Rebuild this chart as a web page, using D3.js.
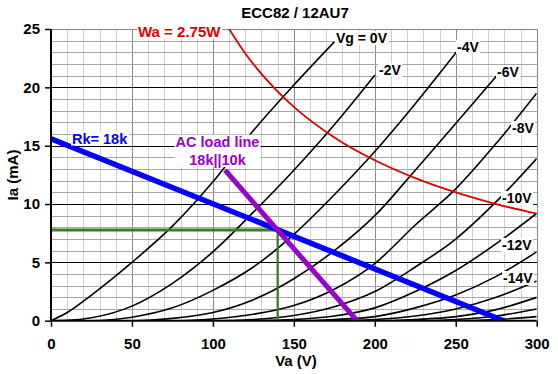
<!DOCTYPE html>
<html><head><meta charset="utf-8">
<script src="https://cdn.jsdelivr.net/npm/d3@7"></script>
<style>
body{margin:0;background:#fff;}
svg{display:block;font-family:Arial,"Liberation Sans",sans-serif;font-weight:bold;}
</style>
</head><body>
<svg id="chart" width="558" height="374"></svg>
<script>
// ---------- DATA ----------
const title = "ECC82 / 12AU7";
const xTicks = [0, 50, 100, 150, 200, 250, 300];
const yTicks = [0, 5, 10, 15, 20, 25];
const xTitle = "Va (V)";
const yTitle = "Ia (mA)";

// anode curves [Va (V), Ia (mA)]
const vg0  = [[0,0],[10,0.7],[25,2.2],[50,5],[75,8.1],[100,11.9],[125,16.3],[150,20.2],[175,23.9]];
const vg2  = [[0,0],[10,0.03],[25,0.25],[50,1.25],[75,3.2],[100,5.9],[125,9.3],[150,12.9],[175,16.8],[200,21.05]];
const vg4  = [[0,0],[25,0],[50,0.3],[75,1.1],[100,2.6],[125,4.6],[150,7.4],[175,10.8],[200,14.5],[225,18.6],[250.6,23.05]];
const vg6  = [[0,0],[50,0],[75,0.2],[100,0.7],[125,1.8],[150,3.6],[175,6.0],[200,9.0],[225,12.9],[250,16.9],[275.3,21]];
const vg8  = [[0,0],[75,0],[100,0.15],[125,0.55],[150,1.3],[175,2.7],[200,4.9],[225,8.2],[250,11.3],[275,15.2],[300,19.5]];
const vg10 = [[0,0],[100,0],[125,0.1],[150,0.45],[175,1.2],[200,2.5],[225,4.6],[250,7.0],[275,10.2],[300,13.9]];
const vg12 = [[0,0],[125,0],[150,0.1],[175,0.4],[200,1.1],[225,2.5],[250,4.3],[275,6.6],[300,9.2]];
const vg14 = [[0,0],[150,0],[175,0.1],[200,0.35],[225,1.1],[250,2.2],[275,3.8],[300,5.9]];
const vg16 = [[0,0],[175,0],[200,0.1],[225,0.4],[250,1.0],[275,2.0],[300,3.4]];
const vg18 = [[0,0],[200,0],[225,0.1],[250,0.35],[275,0.95],[300,2.0]];
const vg20 = [[0,0],[225,0],[250,0.1],[275,0.4],[300,1.0]];
const vg22 = [[0,0],[250,0],[275,0.1],[300,0.35]];

const vgLabels = ["Vg = 0V","-2V","-4V","-6V","-8V","-10V","-12V","-14V"];

// anode dissipation limit
const waLabel = "Wa = 2.75W";
const waCurve = [[110,25],[120,22.9],[137.5,20],[150,18.33],[175,15.71],[200,13.75],[225,12.22],[250,11],[275,10],[300,9.17]];

// load lines
const dcLabel = "Rk= 18k";
const dcLoad = [[0,15.6],[279.5,0]];
const acLabel = ["AC load line","18k||10k"];
const acLoad = [[107.5,12.9],[189,0]];
const opPoint = [140, 7.78];

// ---------- LAYOUT ----------
const svg = d3.select("#chart");
const x = d3.scaleLinear().domain([0,300]).range([51, 536.7]);
const y = d3.scaleLinear().domain([0,25]).range([320.7, 29]);

const fs = 15;
// grid
const g = svg.append("g").attr("shape-rendering","crispEdges");
d3.range(10,301,10).forEach(v=>{
  const major = v % 50 === 0;
  g.append("line").attr("x1",Math.round(x(v))+0.5).attr("x2",Math.round(x(v))+0.5)
    .attr("y1",y(25)).attr("y2",y(0))
    .attr("stroke", major ? "#8a8a8a" : "#cfcfcf").attr("stroke-width", major?1.6:1);
});
d3.range(1,26,1).forEach(v=>{
  const major = v % 5 === 0 && v < 25;
  g.append("line").attr("x1",x(0)).attr("x2",x(300))
    .attr("y1",Math.round(y(v))+0.5).attr("y2",Math.round(y(v))+0.5)
    .attr("stroke", major ? "#000" : (v===25 ? "#888" : "#a6a6a6")).attr("stroke-width", 1);
});

// clip
svg.append("clipPath").attr("id","clip").append("rect")
  .attr("x",x(0)).attr("y",y(25)).attr("width",x(300)-x(0)).attr("height",y(0)-y(25));

const plot = svg.append("g").attr("clip-path","url(#clip)");
const line = d3.line().x(d=>x(d[0])).y(d=>y(d[1])).curve(d3.curveMonotoneX);

[vg0,vg2,vg4,vg6,vg8,vg10,vg12,vg14,vg16,vg18,vg20,vg22].forEach(c=>{
  plot.append("path").attr("d",line(c)).attr("fill","none").attr("stroke","#000").attr("stroke-width",1.6);
});

plot.append("path").attr("d",line(waCurve)).attr("fill","none").attr("stroke","#e00000").attr("stroke-width",1.8);

// operating point lines
plot.append("line").attr("x1",x(0)).attr("x2",x(opPoint[0])).attr("y1",y(opPoint[1])).attr("y2",y(opPoint[1]))
  .attr("stroke","#3a7d22").attr("stroke-width",3);
plot.append("line").attr("x1",x(opPoint[0])).attr("x2",x(opPoint[0])).attr("y1",y(opPoint[1])).attr("y2",y(0))
  .attr("stroke","#3a7d22").attr("stroke-width",2.2);

const straight = d3.line().x(d=>x(d[0])).y(d=>y(d[1]));
plot.append("path").attr("d",straight(dcLoad)).attr("stroke","#0000ff").attr("stroke-width",5.5).attr("fill","none");
plot.append("path").attr("d",straight(acLoad)).attr("stroke","#9900cc").attr("stroke-width",5).attr("fill","none");

// axes
const ax = svg.append("g").attr("transform",`translate(0,${y(0)})`)
  .call(d3.axisBottom(x).tickValues(xTicks).tickSize(6).tickPadding(12).tickFormat(d3.format("d")));
const ay = svg.append("g").attr("transform",`translate(${x(0)},0)`)
  .call(d3.axisLeft(y).tickValues(yTicks).tickSize(6).tickPadding(5).tickFormat(d3.format("d")));
[ax,ay].forEach(a=>{
  a.selectAll(".domain").attr("stroke","#000").attr("stroke-width",2);
  a.selectAll(".tick line").attr("stroke","#000").attr("stroke-width",1.5);
  a.selectAll("text").attr("font-size",fs).attr("font-family","Arial, 'Liberation Sans', sans-serif").attr("font-weight","bold").attr("fill","#000");
});
ax.select(".domain").attr("d",`M${x(0)},0H${x(300)}`);
ay.select(".domain").attr("d",`M0,${y(25)-y(0)+y(0)-y(0)}`);
ay.select(".domain").attr("d",`M0,${y(0)}V${y(25)}`);

// titles
svg.append("text").attr("x",295).attr("y",17.5).attr("text-anchor","middle").attr("font-size",15).text(title);
svg.append("text").attr("x",296).attr("y",366).attr("text-anchor","middle").attr("font-size",15).text(xTitle);
svg.append("text").attr("transform","translate(18,175) rotate(-90)").attr("text-anchor","middle").attr("font-size",15).text(yTitle);

// labels with white background
function label(txt, px, py, color, size, anchor){
  const t = svg.append("text").attr("x",px).attr("y",py).attr("fill",color)
    .attr("font-size",size).attr("text-anchor",anchor||"start").text(txt);
  const b = t.node().getBBox();
  svg.insert("rect", function(){return t.node();})
    .attr("x",b.x-1).attr("y",b.y+1).attr("width",b.width+2).attr("height",b.height-2).attr("fill","#fff");
  return t;
}
const vgPos = [[336,43],[379,75],[457,52],[497,77],[512,133],[502,203],[502,250],[503,283]];
vgLabels.forEach((s,i)=>label(s, vgPos[i][0], vgPos[i][1], "#000", 14));

label(waLabel, 138, 37, "#e00000", 15);
label(dcLabel, 72, 143.5, "#0000ff", 14.5);

// AC load line label box
const acBox = svg.append("rect").attr("fill","#fff");
const t1 = svg.append("text").attr("x",217.5).attr("y",146.7).attr("text-anchor","middle").attr("font-size",14.5).attr("fill","#9900cc").text(acLabel[0]);
const t2 = svg.append("text").attr("x",217.5).attr("y",165).attr("text-anchor","middle").attr("font-size",14.5).attr("fill","#9900cc").text(acLabel[1]);
const b1 = t1.node().getBBox(), b2 = t2.node().getBBox();
acBox.attr("x",b1.x-1).attr("y",b1.y+1).attr("width",b1.width+2).attr("height",b2.y+b2.height-b1.y-2);
</script>
</body></html>
